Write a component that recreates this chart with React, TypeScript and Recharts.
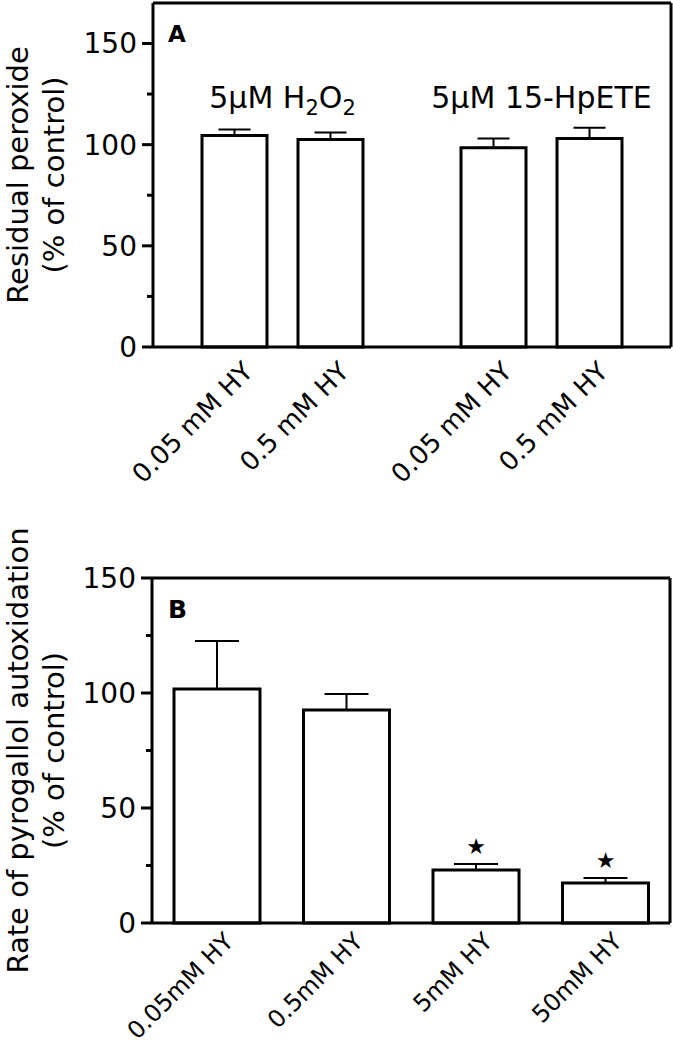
import React from 'react';
import { BarChart, Bar, XAxis, YAxis, ErrorBar, LabelList } from 'recharts';

// ---- Panel A data ----
const groupsA = ['5µM H2O2', '5µM 15-HpETE'];
const seriesNamesA = ['0.05 mM HY', '0.5 mM HY'];
const lowDoseA = [104.5, 98.5];
const lowDoseErrA = [3, 4.5];
const highDoseA = [102.5, 103];
const highDoseErrA = [3.5, 5.4];
const ticksA = [0, 25, 50, 75, 100, 125, 150];
const yLabelA = ['Residual peroxide', '(% of control)'];

// ---- Panel B data ----
const categoriesB = ['0.05mM HY', '0.5mM HY', '5mM HY', '50mM HY'];
const valuesB = [101.7, 92.6, 23, 17.4];
const errorsB = [20.9, 7, 2.7, 2.2];
const significantB = [false, false, true, true];
const ticksB = [0, 25, 50, 75, 100, 125, 150];
const yLabelB = ['Rate of pyrogallol autoxidation', '(% of control)'];

const dataA = groupsA.map((g, i) => ({
  group: g,
  low: lowDoseA[i],
  lowErr: [0, lowDoseErrA[i]],
  high: highDoseA[i],
  highErr: [0, highDoseErrA[i]],
}));

const dataB = categoriesB.map((c, i) => ({
  name: c,
  value: valuesB[i],
  err: [0, errorsB[i]],
}));

const FONT = 'DejaVu Sans, Arial, sans-serif';
const BLACK = '#000';

const YTick = (props: any) => {
  const { x, y, payload } = props;
  const major = payload.value % 50 === 0;
  return (
    <g>
      <line x1={x - (major ? 11 : 6)} x2={x} y1={y} y2={y} stroke={BLACK} strokeWidth={3} />
      {major && (
        <text x={x - 16} y={y} dy={10} textAnchor="end" fontSize={28} fontFamily={FONT} fill={BLACK}>
          {payload.value}
        </text>
      )}
    </g>
  );
};

const splitSub = (s: string) => {
  const segs: { t: string; sub: boolean }[] = [];
  let cur = '';
  for (let i = 0; i < s.length; i++) {
    const ch = s[i];
    const prev = i > 0 ? s[i - 1] : '';
    if (/\d/.test(ch) && /[A-Za-z]/.test(prev)) {
      if (cur) segs.push({ t: cur, sub: false });
      cur = '';
      segs.push({ t: ch, sub: true });
    } else {
      cur += ch;
    }
  }
  if (cur) segs.push({ t: cur, sub: false });
  return segs;
};

const GroupTick = (props: any) => {
  const { x, y, payload } = props;
  const segs = splitSub(String(payload.value));
  let shift = 0;
  return (
    <text x={x} y={y + 105} textAnchor="middle" fontSize={30} fontFamily={FONT} fill={BLACK}>
      {segs.map((s, i) => {
        const target = s.sub ? 7 : 0;
        const dy = target - shift;
        shift = target;
        return (
          <tspan key={i} dy={dy} fontSize={s.sub ? 21 : 30}>
            {s.t}
          </tspan>
        );
      })}
    </text>
  );
};

const YLabel = (props: any) => {
  const { viewBox, lines } = props;
  const cy = viewBox ? viewBox.y + viewBox.height / 2 : 175;
  const xs = [28, 64];
  return (
    <g>
      {lines.map((l: string, i: number) => (
        <text
          key={i}
          x={xs[i]}
          y={cy}
          textAnchor="middle"
          fontSize={29}
          fontFamily={FONT}
          fill={BLACK}
          transform={`rotate(-90, ${xs[i]}, ${cy})`}
        >
          {l}
        </text>
      ))}
    </g>
  );
};

const rotatedLabel = (cx: number, base: number, text: string, size: number, dx: number, dy: number) => {
  const ax = cx + dx;
  const ay = base + dy;
  return (
    <text
      x={ax}
      y={ay}
      textAnchor="end"
      fontSize={size}
      fontFamily={FONT}
      fill={BLACK}
      transform={`rotate(-45, ${ax}, ${ay})`}
    >
      {text}
    </text>
  );
};

const barBox = (props: any) => {
  const vb = props.viewBox || {};
  const x = Number(props.x ?? vb.x);
  const y = Number(props.y ?? vb.y);
  const width = Number(props.width ?? vb.width);
  const height = Number(props.height ?? vb.height);
  return { x, y, width, height };
};

const makeBarName = (name: string) => (props: any) => {
  const { x, y, width, height } = barBox(props);
  return rotatedLabel(x + width / 2, y + height, name, 26, 20, 26);
};

const XTickB = (props: any) => {
  const { x, y, payload } = props;
  return rotatedLabel(x, y, String(payload.value), 24, 18, 20);
};

const StarLabel = (props: any) => {
  const { index } = props;
  if (!significantB[index]) return null;
  const { x, y, width, height } = barBox(props);
  const pxPerUnit = height / valuesB[index];
  const capY = y - errorsB[index] * pxPerUnit;
  const cy = capY - 18;
  return (
    <text x={x + width / 2} y={cy + 8} textAnchor="middle" fontSize={22} fontFamily={FONT} fill={BLACK}>
      ★
    </text>
  );
};

const axisLine = { stroke: BLACK, strokeWidth: 3 };

export default function App() {
  return (
    <div style={{ position: 'absolute', left: 0, top: 0, width: 673, height: 1050, background: '#fff' }}>
      <div style={{ position: 'absolute', left: 0, top: 0 }}>
        <BarChart width={673} height={520} data={dataA} margin={{ top: 2, right: 1, bottom: 0, left: 0 }} barGap={31}>
          <XAxis dataKey="group" tick={false} tickLine={false} axisLine={axisLine} height={173} />
          <XAxis
            xAxisId="top"
            orientation="top"
            dataKey="group"
            height={1}
            tickSize={0}
            tickMargin={0}
            tickLine={false}
            axisLine={axisLine}
            tick={<GroupTick />}
            interval={0}
          />
          <YAxis
            domain={[0, 170]}
            ticks={ticksA}
            interval={0}
            width={153}
            tickSize={0}
            tickMargin={0}
            tickLine={false}
            axisLine={axisLine}
            tick={<YTick />}
            label={<YLabel lines={yLabelA} />}
          />
          <YAxis
            yAxisId="right"
            orientation="right"
            width={1}
            domain={[0, 170]}
            tick={false}
            tickLine={false}
            axisLine={axisLine}
          />
          <Bar dataKey="low" name={seriesNamesA[0]} barSize={65} fill="#fff" stroke={BLACK} strokeWidth={3} isAnimationActive={false}>
            <ErrorBar dataKey="lowErr" width={16} stroke={BLACK} strokeWidth={2} direction="y" />
            <LabelList dataKey="low" content={makeBarName(seriesNamesA[0])} />
          </Bar>
          <Bar dataKey="high" name={seriesNamesA[1]} barSize={65} fill="#fff" stroke={BLACK} strokeWidth={3} isAnimationActive={false}>
            <ErrorBar dataKey="highErr" width={16} stroke={BLACK} strokeWidth={2} direction="y" />
            <LabelList dataKey="high" content={makeBarName(seriesNamesA[1])} />
          </Bar>
        </BarChart>
        <svg width={673} height={520} style={{ position: 'absolute', left: 0, top: 0, pointerEvents: 'none' }}>
          <text x={168} y={42} fontSize={23} fontWeight="bold" fontFamily={FONT} fill={BLACK}>A</text>
        </svg>
      </div>
      <div style={{ position: 'absolute', left: 0, top: 520 }}>
        <BarChart width={673} height={530} data={dataB} margin={{ top: 57, right: 2, bottom: 0, left: 0 }}>
          <XAxis
            dataKey="name"
            tickSize={0}
            tickMargin={0}
            tickLine={false}
            axisLine={axisLine}
            height={127}
            tick={<XTickB />}
            interval={0}
          />
          <XAxis
            xAxisId="top"
            orientation="top"
            dataKey="name"
            height={1}
            tick={false}
            tickLine={false}
            axisLine={axisLine}
          />
          <YAxis
            domain={[0, 150]}
            ticks={ticksB}
            interval={0}
            width={152}
            tickSize={0}
            tickMargin={0}
            tickLine={false}
            axisLine={axisLine}
            tick={<YTick />}
            label={<YLabel lines={yLabelB} />}
          />
          <YAxis
            yAxisId="right"
            orientation="right"
            width={1}
            domain={[0, 150]}
            tick={false}
            tickLine={false}
            axisLine={axisLine}
          />
          <Bar dataKey="value" barSize={86} fill="#fff" stroke={BLACK} strokeWidth={3} isAnimationActive={false}>
            <ErrorBar dataKey="err" width={22} stroke={BLACK} strokeWidth={2} direction="y" />
            <LabelList dataKey="value" content={StarLabel} />
          </Bar>
        </BarChart>
        <svg width={673} height={530} style={{ position: 'absolute', left: 0, top: 0, pointerEvents: 'none' }}>
          <text x={168} y={98} fontSize={25} fontWeight="bold" fontFamily={FONT} fill={BLACK}>B</text>
        </svg>
      </div>
    </div>
  );
}
